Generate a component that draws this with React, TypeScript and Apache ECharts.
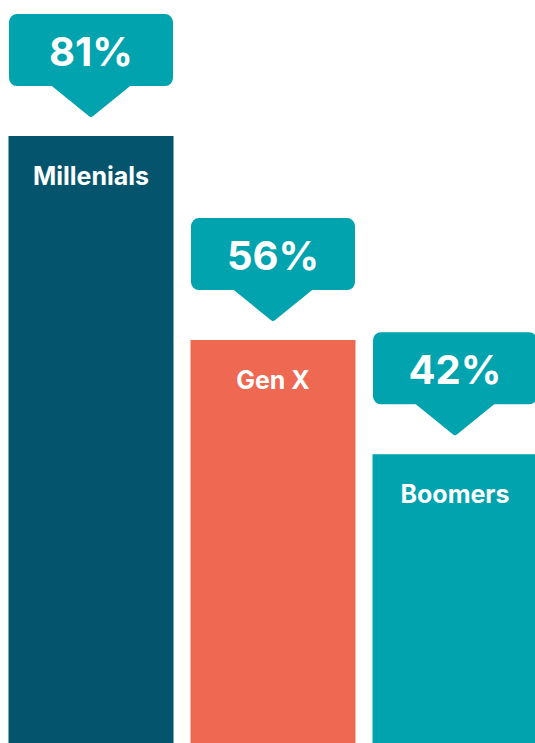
import React, { useEffect, useRef } from "react";
import * as echarts from "echarts";

const categories = ["Millenials", "Gen X", "Boomers"];
const values = [81, 56, 42];
const barColors = ["#05546D", "#EF6851", "#00A3AE"];
const calloutColor = "#00A3AE";

export default function App() {
  const ref = useRef<HTMLDivElement>(null);
  useEffect(() => {
    if (!ref.current) return;
    const chart = echarts.init(ref.current, null, { renderer: "svg" });
    chart.setOption({
      animation: false,
      grid: { left: 0, right: 0, top: 0, bottom: 0 },
      xAxis: {
        type: "category",
        data: categories,
        show: false,
      },
      yAxis: { type: "value", min: 0, max: 100, show: false },
      series: [
        {
          type: "bar",
          barWidth: 165,
          data: values.map((v, i) => ({ value: v, itemStyle: { color: barColors[i] } })),
          label: {
            show: true,
            position: "insideTop",
            distance: 27,
            formatter: "{b}",
            color: "#ffffff",
            fontFamily: "Inter",
            fontWeight: "bold",
            fontSize: 25,
          },
        },
        {
          type: "custom",
          data: values.map((v, i) => [i, v]),
          z: 5,
          renderItem: (params: any, api: any) => {
            const pt = api.coord([api.value(0), api.value(1)]);
            const cx = pt[0];
            const tipY = pt[1] - 19;
            const rectBottom = tipY - 31;
            const rectH = 72;
            const w = 164;
            return {
              type: "group",
              children: [
                {
                  type: "rect",
                  shape: { x: cx - w / 2, y: rectBottom - rectH, width: w, height: rectH, r: 8 },
                  style: { fill: calloutColor },
                },
                {
                  type: "polygon",
                  shape: {
                    points: [
                      [cx - 37, rectBottom - 2],
                      [cx + 37, rectBottom - 2],
                      [cx, tipY - 3],
                    ],
                  },
                  style: { fill: calloutColor, stroke: calloutColor, lineWidth: 6, lineJoin: "round" },
                },
                {
                  type: "text",
                  x: cx,
                  y: rectBottom - rectH / 2 + 1,
                  style: {
                    text: api.value(1) + "%",
                    fill: "#ffffff",
                    font: "bold 40px Inter",
                    align: "center",
                    verticalAlign: "middle",
                  },
                },
              ],
            };
          },
        },
      ],
    });
    return () => chart.dispose();
  }, []);
  return (
    <div
      style={{ position: "fixed", left: 0, top: 0, width: 535, height: 743, overflow: "hidden", background: "#fff" }}
    >
      <div
        ref={ref}
        style={{ position: "absolute", left: 0, top: -19, width: 546, height: 816 }}
      />
    </div>
  );
}
